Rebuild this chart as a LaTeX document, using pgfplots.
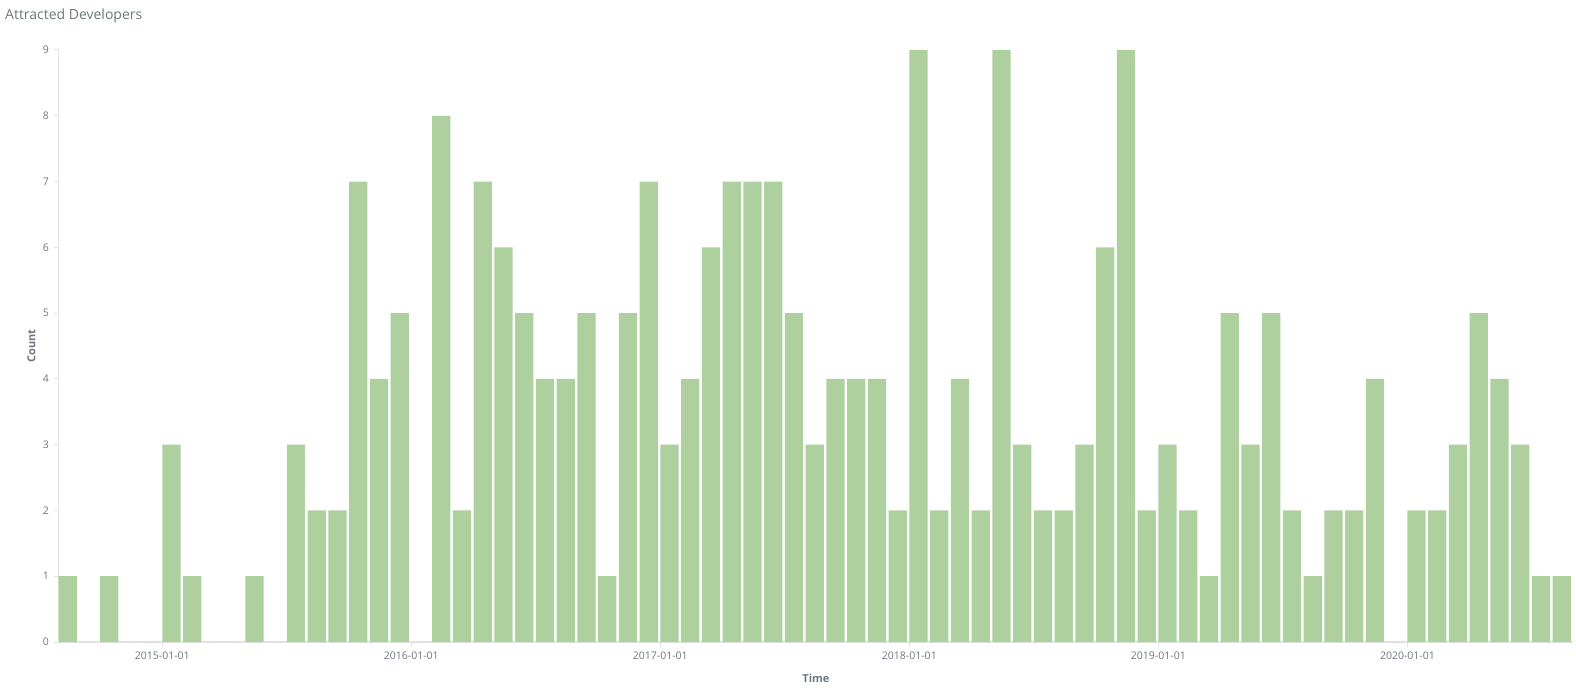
\documentclass[border=0pt]{standalone}
\usepackage{pgfplots}
\pgfplotsset{compat=1.18}
\usepackage{pgfplotstable}
\usepackage{fontspec}
\setmainfont{Open Sans}
\definecolor{barc}{HTML}{AED09F}
\definecolor{axc}{HTML}{E3E3E3}
\definecolor{tickc}{HTML}{6F7680}
\definecolor{titlec}{HTML}{6B7878}
\pgfplotstableread{
m n
0 1
1 0
2 1
3 0
4 0
5 3
6 1
7 0
8 0
9 1
10 0
11 3
12 2
13 2
14 7
15 4
16 5
17 0
18 8
19 2
20 7
21 6
22 5
23 4
24 4
25 5
26 1
27 5
28 7
29 3
30 4
31 6
32 7
33 7
34 7
35 5
36 3
37 4
38 4
39 4
40 2
41 9
42 2
43 4
44 2
45 9
46 3
47 2
48 2
49 3
50 6
51 9
52 2
53 3
54 2
55 1
56 5
57 3
58 5
59 2
60 1
61 2
62 2
63 4
64 0
65 2
66 2
67 3
68 5
69 4
70 3
71 1
72 1
}\devs
\begin{document}
\begin{tikzpicture}[x=1pt,y=1pt]
\useasboundingbox (0,0) rectangle (1576,689);
\node[anchor=west, text=titlec, font=\fontsize{14}{16}\selectfont, inner sep=0pt] at (5,673) {Attracted Developers};
\begin{axis}[
  at={(58.5pt,47pt)}, anchor=south west,
  scale only axis, width=1515pt, height=592pt,
  xmin=0, xmax=73, ymin=0, ymax=9,
  axis x line*=bottom, axis y line*=left,
  axis line style={draw=axc, line width=1.2pt, -},
  xtick={5,17,29,41,53,65},
  xticklabels={2015-01-01,2016-01-01,2017-01-01,2018-01-01,2019-01-01,2020-01-01},
  ytick={0,1,...,9},
  tick align=outside, major tick length=5pt,
  tick style={draw=axc, line width=1pt},
  /pgf/number format/assume math mode=true,
  ticklabel style={text=tickc, font=\fontsize{10.5}{12}\selectfont},
  xticklabel style={yshift=-1pt},
  yticklabel style={xshift=-1pt},
  xlabel={Time}, ylabel={Count},
  label style={text=tickc, font=\bfseries\fontsize{11}{13}\selectfont},
  xlabel style={at={(axis description cs:0.5,0)}, anchor=center, yshift=-36pt},
  ylabel style={at={(axis description cs:0,0.5)}, anchor=center, rotate=0, yshift=27pt},
  ybar, bar width=0.88, bar shift=0.44,
  clip=false,
]
\addplot[fill=barc, draw=none] table[x=m, y=n] {\devs};
\end{axis}
\end{tikzpicture}
\end{document}
